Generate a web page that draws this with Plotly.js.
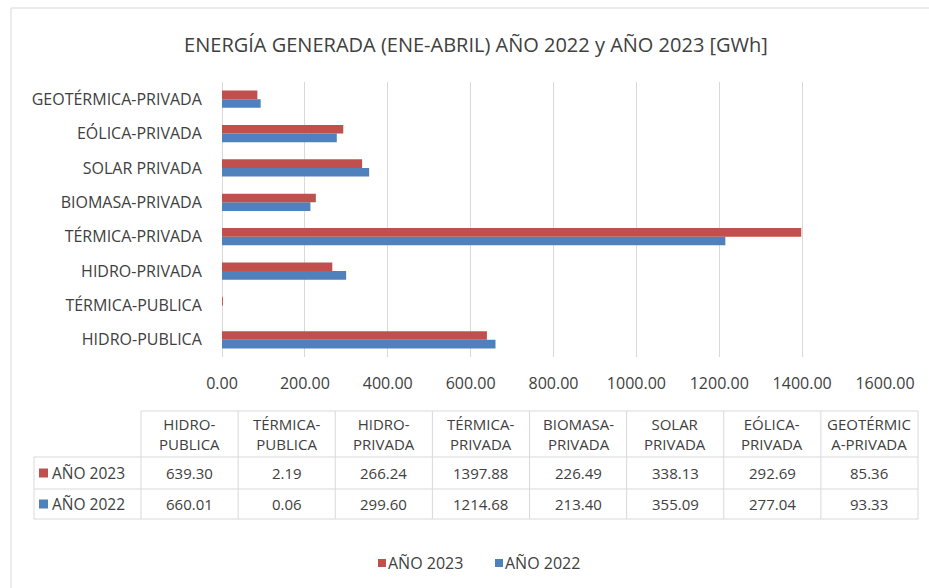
<!DOCTYPE html>
<html>
<head>
<meta charset="utf-8">
<script src="https://cdn.plot.ly/plotly-3.0.1.min.js"></script>
<style>html,body{margin:0;padding:0;background:#fff;}#chart{width:929px;height:588px;}</style>
</head>
<body>
<div id="chart"></div>
<script>
// ---- data ----
const categories = ["HIDRO-PUBLICA","TÉRMICA-PUBLICA","HIDRO-PRIVADA","TÉRMICA-PRIVADA","BIOMASA-PRIVADA","SOLAR PRIVADA","EÓLICA-PRIVADA","GEOTÉRMICA-PRIVADA"];
const tableHeaders = ["HIDRO-<br>PUBLICA","TÉRMICA-<br>PUBLICA","HIDRO-<br>PRIVADA","TÉRMICA-<br>PRIVADA","BIOMASA-<br>PRIVADA","SOLAR<br>PRIVADA","EÓLICA-<br>PRIVADA","GEOTÉRMIC<br>A-PRIVADA"];
const values2023 = [639.30, 2.19, 266.24, 1397.88, 226.49, 338.13, 292.69, 85.36];
const values2022 = [660.01, 0.06, 299.60, 1214.68, 213.40, 355.09, 277.04, 93.33];
const seriesNames = ["AÑO 2023","AÑO 2022"];
const xTickVals = [0,200,400,600,800,1000,1200,1400,1600];
const titleText = "ENERGÍA GENERADA (ENE-ABRIL) AÑO 2022 y AÑO 2023 [GWh]";

const RED = "#C0504D", BLUE = "#4F81BD", TXT = "#404040", GRID = "#D9D9D9";
const FONT = "Open Sans, sans-serif";

// plot area in pixels
const PL = 222, PR = 885, PT = 82, PB = 357, W = 929, H = 588;
const px = v => (v - PL) / (PR - PL);
const py = v => (PB - v) / (PB - PT);

const traces = [
  {type:"bar", orientation:"h", name:seriesNames[1], y:categories, x:values2022, marker:{color:BLUE}, hoverinfo:"x+name"},
  {type:"bar", orientation:"h", name:seriesNames[0], y:categories, x:values2023, marker:{color:RED}, hoverinfo:"x+name"}
];

const shapes = [];
const annotations = [];

// outer chart border
shapes.push({type:"rect", xref:"paper", yref:"paper", x0:px(11), x1:px(960), y0:py(8), y1:py(620), line:{color:GRID, width:1}, layer:"below"});

// table geometry
const tL = 34, tC = 141, colW = (918 - 141) / categories.length;
const rH0 = 411, rH1 = 457, r1 = 489, r2 = 519;
const lineStyle = {color:GRID, width:1};
shapes.push({type:"line", xref:"paper", yref:"paper", x0:px(tC), x1:px(tC + colW*categories.length), y0:py(rH0), y1:py(rH0), line:lineStyle});
[rH1, r1, r2].forEach(yy => shapes.push({type:"line", xref:"paper", yref:"paper", x0:px(tL), x1:px(tC + colW*categories.length), y0:py(yy), y1:py(yy), line:lineStyle}));
shapes.push({type:"line", xref:"paper", yref:"paper", x0:px(tL), x1:px(tL), y0:py(rH1), y1:py(r2), line:lineStyle});
for (let i = 0; i <= categories.length; i++) {
  const xx = tC + i*colW;
  shapes.push({type:"line", xref:"paper", yref:"paper", x0:px(xx), x1:px(xx), y0:py(rH0), y1:py(r2), line:lineStyle});
}
const rows = [{name:seriesNames[0], vals:values2023, color:RED, top:rH1, bot:r1},
              {name:seriesNames[1], vals:values2022, color:BLUE, top:r1, bot:r2}];
tableHeaders.forEach((h, i) => {
  annotations.push({xref:"paper", yref:"paper", x:px(tC + (i+0.5)*colW), y:py((rH0+rH1)/2), text:h, showarrow:false,
    xanchor:"center", yanchor:"middle", font:{family:FONT, size:15, color:TXT}});
});
rows.forEach(r => {
  const cy = (r.top + r.bot)/2;
  shapes.push({type:"rect", xref:"paper", yref:"paper", x0:px(39), x1:px(48), y0:py(cy-4.5), y1:py(cy+4.5), fillcolor:r.color, line:{width:0}});
  annotations.push({xref:"paper", yref:"paper", x:px(50), y:py(cy), text:r.name, showarrow:false, xanchor:"left", yanchor:"middle",
    font:{family:FONT, size:15.5, color:TXT}});
  r.vals.forEach((v, i) => {
    annotations.push({xref:"paper", yref:"paper", x:px(tC + (i+0.5)*colW), y:py(cy), text:v.toFixed(2), showarrow:false,
      xanchor:"center", yanchor:"middle", font:{family:FONT, size:15, color:TXT}});
  });
});

// bottom legend
const legItems = [{name:seriesNames[0], color:RED, x:378}, {name:seriesNames[1], color:BLUE, x:495}];
legItems.forEach(it => {
  const cy = 563;
  shapes.push({type:"rect", xref:"paper", yref:"paper", x0:px(it.x), x1:px(it.x+8), y0:py(cy-4), y1:py(cy+4), fillcolor:it.color, line:{width:0}});
  annotations.push({xref:"paper", yref:"paper", x:px(it.x+8), y:py(cy), text:it.name, showarrow:false, xanchor:"left", yanchor:"middle",
    font:{family:FONT, size:16, color:TXT}});
});

const layout = {
  width:W, height:H,
  margin:{l:PL, r:W-PR, t:PT, b:H-PB, pad:0},
  paper_bgcolor:"#fff", plot_bgcolor:"#fff",
  title:{text:titleText, x:px(476), xref:"paper", xanchor:"center", y:1-45/H, yanchor:"middle", font:{family:FONT, size:20, color:TXT}},
  barmode:"group", bargap:0.5, bargroupgap:0,
  xaxis:{range:[0,1600], tickvals:xTickVals, tickformat:".2f", showgrid:true, gridcolor:GRID, gridwidth:1,
    zeroline:true, zerolinecolor:GRID, zerolinewidth:1, showline:false, ticks:"outside", ticklen:12, tickcolor:"rgba(0,0,0,0)",
    tickfont:{family:FONT, size:16, color:TXT}, fixedrange:true},
  yaxis:{type:"category", showgrid:false, zeroline:false, showline:false, ticks:"outside", ticklen:16, tickcolor:"rgba(0,0,0,0)",
    tickfont:{family:FONT, size:16, color:TXT}, fixedrange:true},
  showlegend:false,
  shapes:shapes, annotations:annotations
};

Plotly.newPlot("chart", traces, layout, {displayModeBar:false, staticPlot:true});
</script>
</body>
</html>
